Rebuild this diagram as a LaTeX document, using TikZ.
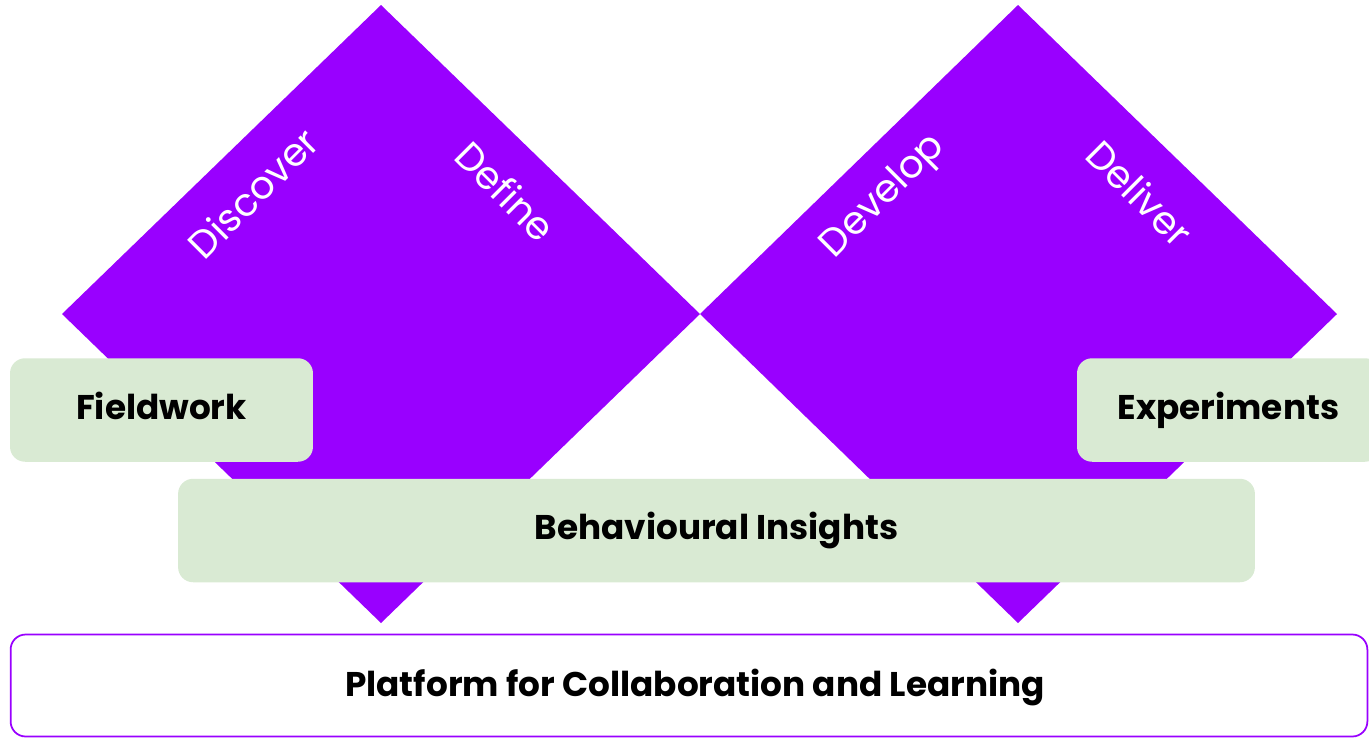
\documentclass[tikz,border=0pt]{standalone}
\usepackage{fontspec}
\setmainfont{Poppins}
\usepackage{tikz}
\usetikzlibrary{backgrounds}
\definecolor{violet}{HTML}{9900FF}
\definecolor{sage}{HTML}{D9EAD3}
\def\leftdiamond{(62,314) -- (381,5) -- (700,314) -- (381,623) -- cycle}
\def\rightdiamond{(700,314) -- (1018,5) -- (1337,314) -- (1018,623) -- cycle}
\tikzset{
	phase/.style={text=white, font=\fontsize{22}{26}\selectfont},
	label text/.style={font=\bfseries\fontsize{19.5}{24}\selectfont,
		text height=1.25em, text depth=0.21em},
	card/.style={label text, fill=sage, rounded corners=0.3cm, inner sep=0pt,
		minimum width=6.06cm, minimum height=2.07cm},
}
\begin{document}
\begin{tikzpicture}[x=0.02cm, y=-0.02cm, fill=violet]
	\useasboundingbox (0,0) rectangle (1369,738);
	\fill \leftdiamond;
	\fill \rightdiamond;

	\node[phase, rotate=45] (discover) at (253,193) {Discover};
	\node[phase, rotate=-45] (define) at (506,191) {Define};
	\node[phase, rotate=45] (develop) at (884,197) {Develop};
	\node[phase, rotate=-45] (deliver) at (1140,193) {Deliver};

	\node[card] (fieldwork) at (161.5,410) {Fieldwork};
	\node[card] (experiments) at (1228.5,410) {Experiments};
	\node[card, minimum width=21.54cm] (insights) at (716.5,530.5) {Behavioural Insights};

%	platform along the bottom
	\node[label text, draw=violet, line width=1pt, fill=white, rounded corners=0.3cm,
		inner sep=0pt, minimum width=27.14cm, minimum height=2.04cm]
		(platform) at (689,685.5) {};
	\node[label text] (platformtext) at (695,687) {Platform for Collaboration and Learning};
\end{tikzpicture}
\end{document}
